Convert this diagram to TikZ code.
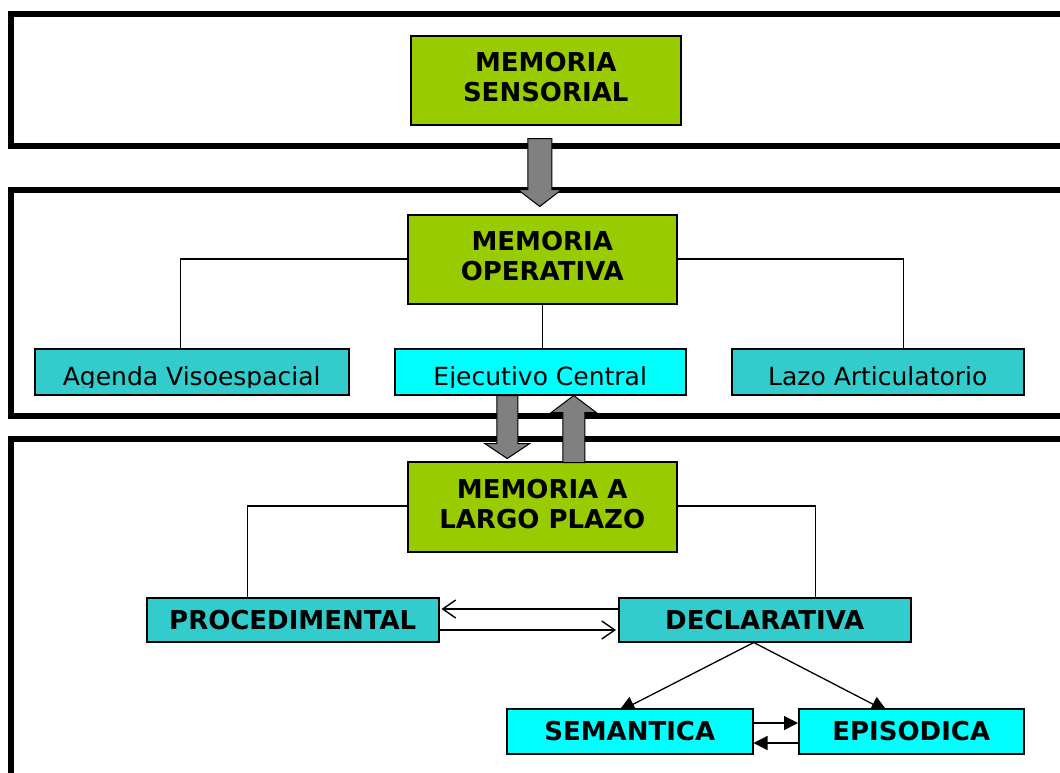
\documentclass[tikz,border=0pt]{standalone}
\usepackage{fontspec}
\setmainfont{DejaVu Sans}
\usetikzlibrary{arrows.meta,calc}
\pgfdeclarelayer{bg}
\pgfsetlayers{bg,main}
\definecolor{mgreen}{HTML}{99CC00}
\definecolor{mteal}{HTML}{33CCCC}
\definecolor{mcyan}{HTML}{00FFFF}
\definecolor{mgray}{HTML}{808080}
\begin{document}
\begin{tikzpicture}[x=1pt,y=-1pt,
  frame/.style={draw=black,line width=5.5pt},
  box/.style={draw=black,line width=1.5pt,inner sep=0pt,anchor=north west},
  bigtxt/.style={font=\fontsize{26}{30}\selectfont\bfseries,align=center},
  smalltxt/.style={font=\fontsize{25}{30}\selectfont,inner sep=0pt,anchor=base},
  conn/.style={draw=black,line width=1.3pt},
  garrow/.style={fill=mgray,draw=black,line width=1pt},
  pics/bdown/.style n args={4}{code={%
    \filldraw[garrow] (-#1,0) -- (#1,0) -- (#1,#3) -- (#2,#3) -- (0,#3+#4) -- (-#2,#3) -- (-#1,#3) -- cycle;}}
]
\clip (0,0) rectangle (1060,772);
% frames
\draw[frame] (11,14) rectangle (1080,146);
\draw[frame] (11,190) rectangle (1080,416);
\draw[frame] (11,439) rectangle (1080,800);

% top nodes
\node[box,fill=mgreen,minimum width=270pt,minimum height=89pt] (ms) at (410,35) {};
\node[bigtxt] (msT) at ($(ms.center)+(0,-3)$) {MEMORIA\\SENSORIAL};

\node[box,fill=mgreen,minimum width=269pt,minimum height=89pt] (mo) at (407,214) {};
\node[bigtxt] (moT) at ($(mo.center)+(0,-3)$) {MEMORIA\\OPERATIVA};

\node[box,fill=mteal,minimum width=314pt,minimum height=46pt] (ag) at (34,348) {};
\node[box,fill=mcyan,minimum width=291pt,minimum height=46pt] (ej) at (394,348) {};
\node[box,fill=mteal,minimum width=292pt,minimum height=46pt] (la) at (731,348) {};
\foreach \n/\t in {ag/Agenda Visoespacial,ej/Ejecutivo Central,la/Lazo Articulatorio}{
  \begin{scope}
    \clip (\n.north west) rectangle ($(\n.south east)+(0,-8)$);
    \node[smalltxt] (\n T) at ($(\n.south)+(0,-10)$) {\t};
  \end{scope}
}

\node[box,fill=mgreen,minimum width=269pt,minimum height=90pt] (lp) at (407,461) {};
\node[bigtxt] (lpT) at ($(lp.center)+(0,-3)$) {MEMORIA A\\LARGO PLAZO};

\node[box,fill=mteal,minimum width=292pt,minimum height=44pt,bigtxt] (pr) at (146,597) {PROCEDIMENTAL};
\node[box,fill=mteal,minimum width=292pt,minimum height=44pt,bigtxt] (de) at (618,597) {DECLARATIVA};
\node[box,fill=mcyan,minimum width=246pt,minimum height=45pt,bigtxt] (se) at (506,708) {SEMANTICA};
\node[box,fill=mcyan,minimum width=225pt,minimum height=45pt,bigtxt] (ep) at (798,708) {EPISODICA};

% tree connectors
\draw[conn] ($(mo.north west)+(0,45)$) -| ($(ag.north)+(-11,0)$);
\draw[conn] ($(mo.north east)+(0,45)$) -| ($(la.north)+(26,0)$);
\draw[conn] (mo.south) -- (mo.south |- ej.north);
\draw[conn] ($(lp.north west)+(0,45)$) -| ($(pr.north)+(-45,0)$);
\draw[conn] ($(lp.north east)+(0,45)$) -| ($(de.north)+(51,0)$);

% procedimental <-> declarativa
\draw[conn,-{Straight Barb[length=13pt,width=18pt,line width=1.4pt]}] ($(de.north west)+(0,12)$) -- ($(pr.north east)+(2,12)$);
\draw[conn,-{Straight Barb[length=13pt,width=18pt,line width=1.4pt]}] ($(pr.north east)+(0,33)$) -- ($(de.north west)+(-2,33)$);

% declarativa -> semantica / episodica
\coordinate (apex) at ($(de.south)+(-11,0)$);
\begin{pgfonlayer}{bg}
\draw[conn,-{Triangle[length=17pt,width=16pt]}] (apex) -- ($(se.north west)+(112,4)$);
\draw[conn,-{Triangle[length=17pt,width=16pt]}] (apex) -- ($(ep.north west)+(90,4)$);
\end{pgfonlayer}

% semantica <-> episodica
\draw[conn,-{Triangle[length=14pt,width=14pt]}] ($(se.north east)+(0,15)$) -- ($(ep.north west)+(0,15)$);
\draw[conn,-{Triangle[length=14pt,width=14pt]}] ($(ep.north west)+(0,35)$) -- ($(se.north east)+(0,35)$);

% gray block arrows
\pic at ($(ms.south)+(-6,13)$) {bdown={12}{22}{51}{17}};
\pic at ($(ej.south)+(-33,0)$) {bdown={10.5}{22.5}{48}{15}};
\pic[rotate=180] at ($(ej.south)+(33.5,67)$) {bdown={11}{22.5}{50}{17}};
\end{tikzpicture}
\end{document}
